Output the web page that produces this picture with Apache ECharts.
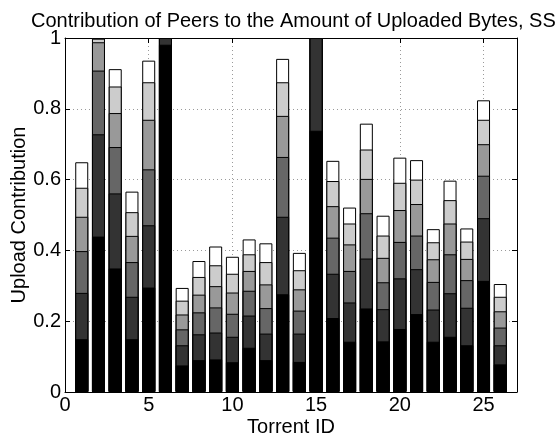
<!DOCTYPE html>
<html>
<head>
<meta charset="utf-8">
<script src="https://cdn.jsdelivr.net/npm/echarts@6/dist/echarts.min.js"></script>
<style>
html,body{margin:0;padding:0;background:#fff;}
#chart{width:558px;height:437px;}
</style>
</head>
<body>
<div id="chart"></div>
<script>
// Torrent IDs
const torrentIds = [1,2,3,4,5,6,7,8,9,10,11,12,13,14,15,16,17,18,19,20,21,22,23,24,25,26];
// Cumulative upload contribution of peer groups
const cumPeers1 = [0.149,0.439,0.349,0.149,0.295,0.981,0.075,0.090,0.092,0.084,0.125,0.090,0.276,0.085,0.738,0.209,0.142,0.236,0.143,0.178,0.220,0.142,0.156,0.132,0.314,0.078];
const cumPeers2 = [0.280,0.728,0.561,0.269,0.471,1.000,0.132,0.163,0.168,0.156,0.216,0.165,0.495,0.165,1.000,0.334,0.253,0.377,0.234,0.321,0.347,0.233,0.279,0.238,0.491,0.132];
const cumPeers3 = [0.398,0.908,0.692,0.367,0.629,1.000,0.177,0.225,0.239,0.221,0.286,0.237,0.664,0.230,1.000,0.436,0.342,0.505,0.310,0.424,0.442,0.311,0.389,0.316,0.611,0.182];
const cumPeers4 = [0.495,0.988,0.788,0.441,0.769,1.000,0.219,0.275,0.299,0.281,0.342,0.304,0.780,0.290,1.000,0.525,0.417,0.602,0.379,0.514,0.531,0.375,0.476,0.376,0.700,0.228];
const cumPeers5 = [0.577,0.998,0.863,0.508,0.875,1.000,0.258,0.325,0.358,0.334,0.389,0.367,0.875,0.344,1.000,0.596,0.476,0.685,0.442,0.591,0.600,0.423,0.542,0.425,0.769,0.269];
const cumPeers6 = [0.649,1.000,0.912,0.566,0.936,1.000,0.294,0.370,0.411,0.382,0.431,0.420,0.941,0.393,1.000,0.653,0.521,0.758,0.498,0.662,0.655,0.460,0.597,0.462,0.824,0.305];
const xTicks = [0,5,10,15,20,25];
const yTicks = [0,0.2,0.4,0.6,0.8,1];

const levels = [cumPeers6, cumPeers5, cumPeers4, cumPeers3, cumPeers2, cumPeers1];
const colors = ['#ffffff','#cccccc','#999999','#666666','#333333','#000000'];
const FONT = '"Liberation Sans", Arial, Helvetica, sans-serif';

const chart = echarts.init(document.getElementById('chart'), null, {renderer:'canvas'});
const series = levels.map((arr, i) => ({
  type: 'bar',
  xAxisIndex: 0,
  yAxisIndex: 0,
  barWidth: 13,
  barGap: '-100%',
  clip: true,
  animation: false,
  itemStyle: {color: colors[i], borderColor: '#000', borderWidth: 1},
  data: torrentIds.map((id, k) => [id, arr[k]])
}));

const tickStyle = {show:true, inside:true, length:5, lineStyle:{color:'#000', width:1}};
const option = {
  animation: false,
  backgroundColor: '#fff',
  title: {
    text: 'Contribution of Peers to the Amount of Uploaded Bytes, SS',
    left: 26, top: 6,
    textStyle: {fontFamily: FONT, fontSize: 20, fontWeight: 'normal', color: '#000'}
  },
  grid: {left: 65, top: 38, width: 452, height: 354, containLabel: false, outerBoundsMode: 'none'},
  xAxis: [{
    type: 'value', min: 0, max: 27, interval: 5,
    name: 'Torrent ID', nameLocation: 'middle', nameGap: 25, nameMoveOverlap: false,
    nameTextStyle: {fontFamily: FONT, fontSize: 20, color: '#000'},
    axisLine: {show:true, onZero:false, lineStyle:{color:'#000', width:1}},
    axisTick: tickStyle,
    axisLabel: {fontFamily: FONT, fontSize: 20, color: '#000', margin: 3, showMaxLabel: false,
      formatter: v => xTicks.includes(v) ? String(v) : ''},
    splitLine: {show:true, lineStyle:{color:'#9a9a9a', type:[1,3], width:1}}
  },{
    type: 'value', min: 0, max: 27, interval: 5, position: 'top',
    axisLine: {show:true, onZero:false, lineStyle:{color:'#000', width:1}},
    axisTick: tickStyle,
    axisLabel: {show:false},
    splitLine: {show:false}
  }],
  yAxis: [{
    type: 'value', min: 0, max: 1, interval: 0.2,
    name: 'Upload Contribution', nameLocation: 'middle', nameGap: 36, nameMoveOverlap: false,
    nameTextStyle: {fontFamily: FONT, fontSize: 20, color: '#000'},
    axisLine: {show:true, onZero:false, lineStyle:{color:'#000', width:1}},
    axisTick: tickStyle,
    axisLabel: {fontFamily: FONT, fontSize: 20, color: '#000', margin: 4,
      formatter: v => String(yTicks.find(t => Math.abs(t - v) < 1e-9) ?? '')},
    splitLine: {show:true, lineStyle:{color:'#9a9a9a', type:[1,3], width:1}}
  },{
    type: 'value', min: 0, max: 1, interval: 0.2, position: 'right',
    axisLine: {show:true, onZero:false, lineStyle:{color:'#000', width:1}},
    axisTick: tickStyle,
    axisLabel: {show:false},
    splitLine: {show:false}
  }],
  series: series
};
chart.setOption(option);
</script>
</body>
</html>
